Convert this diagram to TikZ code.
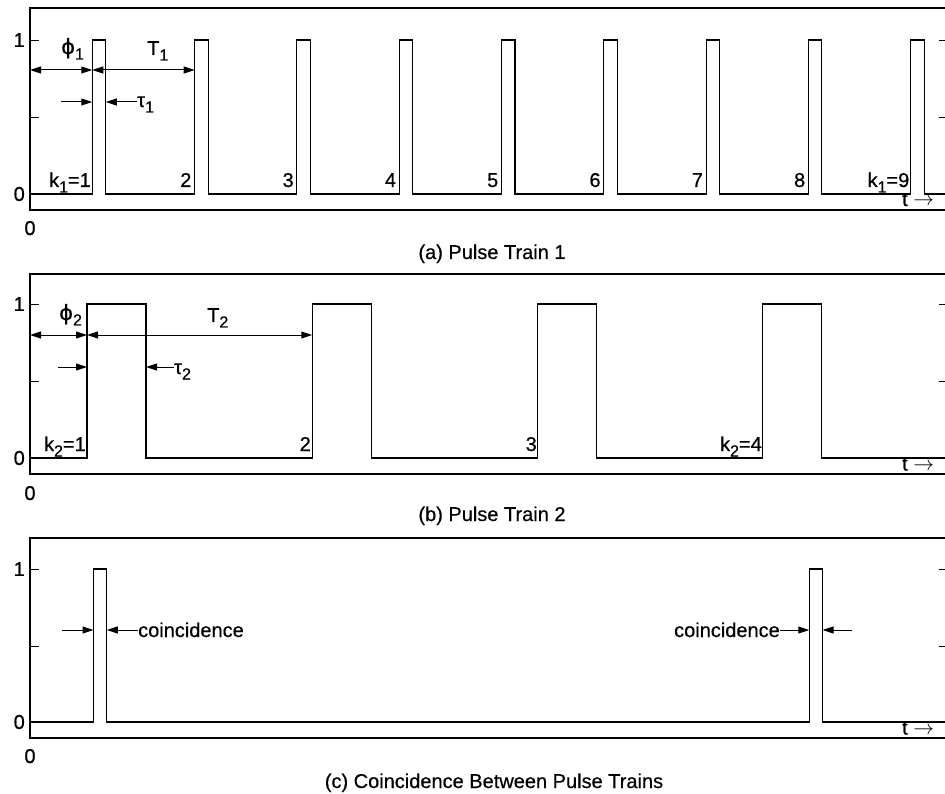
\documentclass[tikz,border=0pt]{standalone}
\usepackage{fontspec}
\setmainfont{Liberation Sans}[BoldFont={Liberation Sans},BoldFeatures={FakeBold=0.5}]
\newfontfamily\dejavu{DejaVu Sans}[BoldFont={DejaVu Sans},BoldFeatures={FakeBold=0.5}]
\usetikzlibrary{arrows.meta}
\newcommand\sbs[1]{\raisebox{-5.5pt}{\fontsize{16}{16}\selectfont #1}}
\newcommand\phisym{{\dejavu\fontsize{21}{24}\selectfont ϕ}}
\begin{document}
\begin{tikzpicture}[x=1pt,y=-1pt,
  sig/.style={line width=1.1pt},
  frame/.style={line width=1.2pt},
  tick/.style={line width=0.9pt},
  lbl/.style={font=\fontsize{20}{24}\selectfont\bfseries, inner sep=0pt},
  dimarrow/.style={line width=1pt,{Triangle[length=11pt,width=7pt]}-{Triangle[length=11pt,width=7pt]}},
  onearrow/.style={line width=1pt,-{Triangle[length=11pt,width=7pt]}}]
\useasboundingbox (0,0) rectangle (945,794);
\fill[white] (0,0) rectangle (945,794);

% ---------------- panel (a) ----------------
\begin{scope}[shift={(0,194)}]
  \draw[frame] (30,-186) rectangle (948,16);
  \draw[tick] (30,-154) -- (39,-154) (30,-77) -- (39,-77);
  \draw[tick] (948,-154) -- (939,-154) (948,-77) -- (939,-77);
  \node[lbl,anchor=east] (ay1) at (25,-154) {1};
  \node[lbl,anchor=east] (ay0) at (25,0) {0};
  \node[lbl,anchor=base] (ax0) at (30,41) {0};
  \draw[sig] (30,0) foreach \k in {0,...,8} { -- ({92.3+\k*102.3},0) -- ++(0,-154) -- ++(13.5,0) -- ++(0,154) } -- (948,0);
  \node[lbl,anchor=base east] (ak1) at (91,-7) {k\sbs{1}=1};
  \foreach \k in {2,...,8} {
    \node[lbl,anchor=base east] (ak\k) at ({92.3+(\k-1)*102.3-3},-7) {\k};
  }
  \node[lbl,anchor=base east] (ak9) at (909.5,-7) {k\sbs{1}=9};
  \node[lbl,anchor=base west] (at) at (902,12) {t $\rightarrow$};
  \coordinate (aL) at (30,-124);
  \coordinate (aR1) at (92.3,-124);
  \coordinate (aR2) at (194.6,-124);
  \draw[dimarrow] (aL) -- (aR1);
  \draw[dimarrow] (aR1) -- (aR2);
  \node[lbl,anchor=base west] (aphi) at (61,-140) {\phisym\sbs{1}};
  \node[lbl,anchor=base west] (aT) at (147,-139) {T\sbs{1}};
  \coordinate (atl0) at (61,-92);
  \coordinate (atl1) at (92.3,-92);
  \coordinate (atr1) at (105.8,-92);
  \node[lbl,anchor=base west] (atau) at (137,-87) {τ\sbs{1}};
  \draw[onearrow] (atl0) -- (atl1);
  \draw[onearrow] (atau.west |- atr1) -- (atr1);
  \node[lbl,anchor=base] (acap) at (492,65) {(a) Pulse Train 1};
\end{scope}

% ---------------- panel (b) ----------------
\begin{scope}[shift={(0,458)}]
  \draw[frame] (30,-184) rectangle (948,16);
  \draw[tick] (30,-154) -- (39,-154) (30,-77) -- (39,-77);
  \draw[tick] (948,-154) -- (939,-154) (948,-77) -- (939,-77);
  \node[lbl,anchor=east] (by1) at (25,-154) {1};
  \node[lbl,anchor=east] (by0) at (25,0) {0};
  \node[lbl,anchor=base] (bx0) at (30,42) {0};
  \draw[sig] (30,0) foreach \k in {0,...,3} { -- ({87+\k*225.3},0) -- ++(0,-154) -- ++(59,0) -- ++(0,154) } -- (948,0);
  \node[lbl,anchor=base east] (bk1) at (86,-7) {k\sbs{2}=1};
  \node[lbl,anchor=base east] (bk2) at (311,-7) {2};
  \node[lbl,anchor=base east] (bk3) at (537,-7) {3};
  \node[lbl,anchor=base east] (bk4) at (762,-7) {k\sbs{2}=4};
  \node[lbl,anchor=base west] (bt) at (902,12.5) {t $\rightarrow$};
  \coordinate (bL) at (30,-123);
  \coordinate (bR1) at (87,-123);
  \coordinate (bR2) at (312.3,-123);
  \draw[dimarrow] (bL) -- (bR1);
  \draw[dimarrow] (bR1) -- (bR2);
  \node[lbl,anchor=base west] (bphi) at (59,-138) {\phisym\sbs{2}};
  \node[lbl,anchor=base west] (bT) at (207,-136) {T\sbs{2}};
  \coordinate (btl0) at (58,-91);
  \coordinate (btl1) at (87,-91);
  \coordinate (btr1) at (146,-91);
  \node[lbl,anchor=base west] (btau) at (174,-84) {τ\sbs{2}};
  \draw[onearrow] (btl0) -- (btl1);
  \draw[onearrow] (btau.west |- btr1) -- (btr1);
  \node[lbl,anchor=base] (bcap) at (492,63) {(b) Pulse Train 2};
\end{scope}

% ---------------- panel (c) ----------------
\begin{scope}[shift={(0,722)}]
  \draw[frame] (30,-184) rectangle (948,16);
  \draw[tick] (30,-153) -- (39,-153) (30,-76) -- (39,-76);
  \draw[tick] (948,-153) -- (939,-153) (948,-76) -- (939,-76);
  \node[lbl,anchor=east] (cy1) at (25,-153) {1};
  \node[lbl,anchor=east] (cy0) at (25,0) {0};
  \node[lbl,anchor=base] (cx0) at (30,41) {0};
  \draw[sig] (30,0) -- (93.5,0) -- ++(0,-153) -- ++(13.3,0) -- ++(0,153)
        -- (809.3,0) -- ++(0,-153) -- ++(13.3,0) -- ++(0,153) -- (948,0);
  \node[lbl,anchor=base west] (ct) at (902,12.5) {t $\rightarrow$};
  \coordinate (cl0) at (62,-92);
  \coordinate (cl1) at (93.5,-92);
  \coordinate (cr1) at (106.8,-92);
  \node[lbl,anchor=base west] (ccoin1) at (138,-85) {coincidence};
  \draw[onearrow] (cl0) -- (cl1);
  \draw[onearrow] (ccoin1.west |- cr1) -- (cr1);
  \coordinate (cl2) at (809.3,-92);
  \coordinate (cr2) at (822.6,-92);
  \coordinate (cr3) at (852,-92);
  \node[lbl,anchor=base east] (ccoin2) at (780,-85) {coincidence};
  \draw[onearrow] (ccoin2.east |- cl2) -- (cl2);
  \draw[onearrow] (cr3) -- (cr2);
  \node[lbl,anchor=base] (ccap) at (494,66) {(c) Coincidence Between Pulse Trains};
\end{scope}
\end{tikzpicture}
\end{document}
